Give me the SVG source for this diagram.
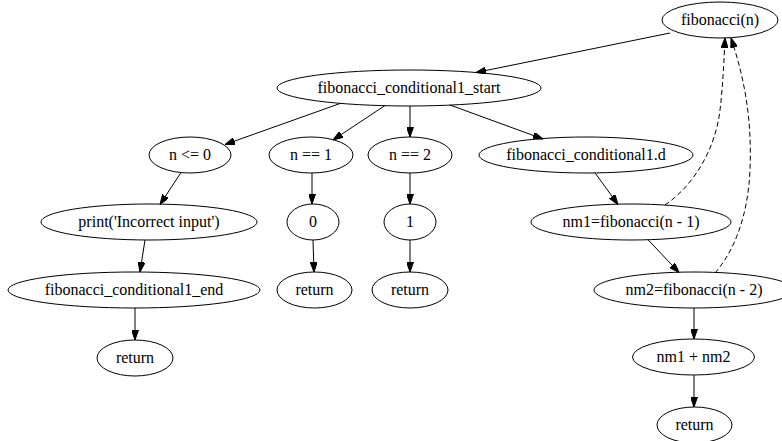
<svg xmlns="http://www.w3.org/2000/svg" width="782" height="441" viewBox="0 0 782 441">
<defs>
<marker id="arr" markerUnits="userSpaceOnUse" viewBox="0 0 10 7" refX="10" refY="3.5" markerWidth="10" markerHeight="7" orient="auto">
<path d="M0,0 L10,3.5 L0,7 z" fill="#000" stroke="#000" stroke-width="1"/>
</marker>
</defs>
<style>
.n ellipse{fill:none;stroke:#000;stroke-width:1}
.n text{font-family:"Liberation Serif","Times New Roman",serif;font-size:16px;text-anchor:middle;fill:#000}
.e path{fill:none;stroke:#000;stroke-width:1;marker-end:url(#arr)}
.e path.d{stroke-dasharray:5,3}
</style>
<rect width="782" height="441" fill="#fff"/>
<g class="e" id="edges">
<path d="M670,33 L476,72.5"/>
<path d="M340,103.5 L225,144.5"/>
<path d="M385,105.5 L333,140"/>
<path d="M410,106 L410,137"/>
<path d="M450,105 L543,139"/>
<path d="M181,172.5 L160,204.5"/>
<path d="M145,240 L140,272"/>
<path d="M135,308 L135,340"/>
<path d="M312,173 L312,204"/>
<path d="M313,240 L314,272"/>
<path d="M410,173 L410,204"/>
<path d="M410,240 L410,272"/>
<path d="M595,172.8 L618,204.5"/>
<path d="M648,239.7 L679,272.5"/>
<path d="M694,308 L694,339"/>
<path d="M694,375 L694,407"/>
<path class="d" d="M665,205 C697,183 716,145 720,110 C723,85 724,60 725,38"/>
<path class="d" d="M715,273 C735,250 748,215 750,170 C752,120 745,80 731,38"/>
</g>
<g class="n" id="fibonacci_n"><ellipse cx="720" cy="20" rx="58" ry="18"/><text x="720" y="25">fibonacci(n)</text></g>
<g class="n" id="cond_start"><ellipse cx="409" cy="88" rx="132" ry="18"/><text x="409" y="93">fibonacci_conditional1_start</text></g>
<g class="n" id="n_le_0"><ellipse cx="190" cy="155" rx="41" ry="18"/><text x="190" y="160">n &lt;= 0</text></g>
<g class="n" id="n_eq_1"><ellipse cx="311" cy="155" rx="42" ry="18"/><text x="311" y="160">n == 1</text></g>
<g class="n" id="n_eq_2"><ellipse cx="410" cy="155" rx="42" ry="18"/><text x="410" y="160">n == 2</text></g>
<g class="n" id="cond_d"><ellipse cx="586" cy="155" rx="107" ry="18"/><text x="586" y="160">fibonacci_conditional1.d</text></g>
<g class="n" id="print"><ellipse cx="149" cy="222" rx="108" ry="18"/><text x="149" y="227">print('Incorrect input')</text></g>
<g class="n" id="zero"><ellipse cx="313" cy="222" rx="26" ry="18"/><text x="313" y="227">0</text></g>
<g class="n" id="one"><ellipse cx="410" cy="222" rx="26" ry="18"/><text x="410" y="227">1</text></g>
<g class="n" id="nm1"><ellipse cx="631" cy="222" rx="100" ry="18"/><text x="631" y="227">nm1=fibonacci(n - 1)</text></g>
<g class="n" id="cond_end"><ellipse cx="134" cy="290" rx="126" ry="18"/><text x="134" y="295">fibonacci_conditional1_end</text></g>
<g class="n" id="return1"><ellipse cx="314.5" cy="290" rx="37.5" ry="18"/><text x="314.5" y="295">return</text></g>
<g class="n" id="return2"><ellipse cx="410" cy="290" rx="38" ry="18"/><text x="410" y="295">return</text></g>
<g class="n" id="nm2"><ellipse cx="694" cy="290" rx="100" ry="18"/><text x="694" y="295">nm2=fibonacci(n - 2)</text></g>
<g class="n" id="return0"><ellipse cx="135" cy="358" rx="38" ry="18"/><text x="135" y="363">return</text></g>
<g class="n" id="sum"><ellipse cx="693.5" cy="357" rx="61" ry="18"/><text x="693.5" y="362">nm1 + nm2</text></g>
<g class="n" id="return3"><ellipse cx="694.5" cy="425" rx="37.5" ry="18"/><text x="694.5" y="430">return</text></g>
</svg>
